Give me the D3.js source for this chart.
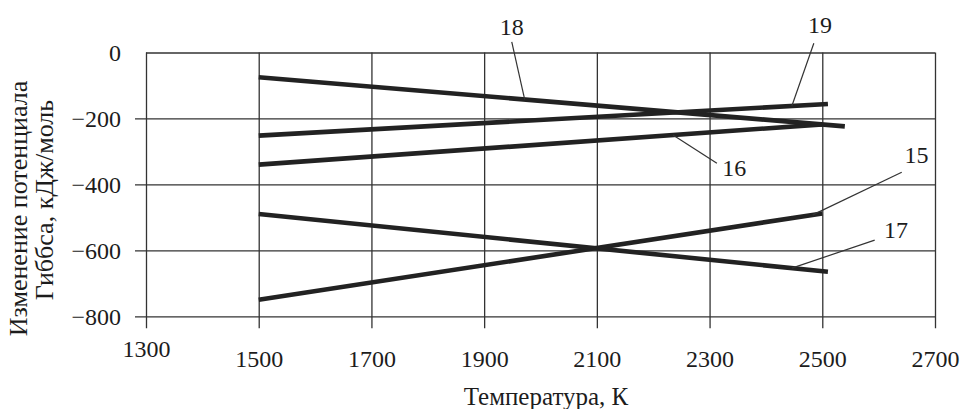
<!DOCTYPE html>
<html>
<head>
<meta charset="utf-8">
<script src="https://cdn.jsdelivr.net/npm/d3@7"></script>
<style>
  body { margin: 0; background: #fff; }
  svg { display: block; font-family: "Liberation Serif", "Times New Roman", serif; }
</style>
</head>
<body>
<div id="chart"></div>
<script>
// axis ticks
var xTicks = [1300, 1500, 1700, 1900, 2100, 2300, 2500, 2700];
var yTicks = [0, -200, -400, -600, -800];

// curves: [temperature K, dG kJ/mol]
var line15 = [[1500, -750], [2500, -488]];
var line16 = [[1500, -340], [2500, -218]];
var line17 = [[1500, -490], [2510, -665]];
var line18 = [[1500, -75], [2540, -224]];
var line19 = [[1500, -252], [2510, -156]];

var curves = [line15, line16, line17, line18, line19];
var curveNames = ["15", "16", "17", "18", "19"];

// callouts: temperature of the point on the curve, outer end of leader, label spot
var leaderAt = [2483, 2235, 2446, 1972, 2446];
var leaderEnd = [[2641, -363], [2313, -336], [2593, -569], [1949, 32], [2485, 28]];
var labelAt = [[2667, -335], [2344, -374], [2631, -563], [1949, 52], [2496, 58]];

var W = 961, H = 409;
var mLeft = 146, mRight = 935, mTop = 52.5, mBottom = 316.3;

var svg = d3.select("#chart").append("svg")
    .attr("width", W)
    .attr("height", H);

var x = d3.scaleLinear().domain([1300, 2700]).range([mLeft, mRight]);
var y = d3.scaleLinear().domain([-800, 0]).range([mBottom, mTop]);

var grid = "#333";
var ink = "#1c1c1c";

// x axis: tick lines run up the whole plot and 12px below it
var xAxis = svg.append("g")
    .attr("transform", "translate(0," + (mBottom + 12) + ")")
    .call(d3.axisBottom(x).tickValues(xTicks).tickSize(-(mBottom + 12 - mTop)).tickFormat(d3.format("d")));
xAxis.select(".domain").remove();
xAxis.selectAll("line").attr("stroke", grid).attr("stroke-width", 1.3);
xAxis.selectAll("text")
    .attr("dy", null)
    .attr("y", function(d) { return d == 1300 ? 29 : 39; })
    .attr("fill", ink)
    .style("font-size", "24px")
    .style("font-family", "Liberation Serif");

// y axis: lines from 11px left of the frame to the right edge
var yAxis = svg.append("g")
    .attr("transform", "translate(" + (mLeft - 11) + ",0)")
    .call(d3.axisLeft(y).tickValues(yTicks).tickSize(-(mRight - mLeft + 11)).tickPadding(14)
      .tickFormat(function(d) { return d < 0 ? "\u2212" + Math.abs(d) : d; }));
yAxis.select(".domain").remove();
yAxis.selectAll("line")
    .attr("stroke", grid).attr("stroke-width", 1.3)
    .attr("x1", function(d) { return d == 0 ? 11 : 0; });
yAxis.selectAll("text")
    .attr("dy", "0.35em")
    .attr("fill", ink)
    .style("font-size", "24px")
    .style("font-family", "Liberation Serif");

// curves
var lineGen = d3.line()
    .x(function(d) { return x(d[0]); })
    .y(function(d) { return y(d[1]); });

svg.append("g").selectAll("path")
    .data(curves)
    .enter().append("path")
    .attr("d", lineGen)
    .attr("fill", "none")
    .attr("stroke", "#222")
    .attr("stroke-width", 4.6);

// value of a curve at temperature t
function valueAt(c, t) {
  var a = c[0], b = c[c.length - 1];
  return a[1] + (b[1] - a[1]) * (t - a[0]) / (b[0] - a[0]);
}

var notes = svg.append("g");
curves.forEach(function(c, i) {
  notes.append("line")
      .attr("x1", x(leaderAt[i]))
      .attr("y1", y(valueAt(c, leaderAt[i])))
      .attr("x2", x(leaderEnd[i][0]))
      .attr("y2", y(leaderEnd[i][1]))
      .attr("stroke", "#333")
      .attr("stroke-width", 1.2);
  notes.append("text")
      .attr("x", x(labelAt[i][0]))
      .attr("y", y(labelAt[i][1]))
      .attr("text-anchor", "middle")
      .attr("fill", ink)
      .style("font-size", "24px")
      .text(curveNames[i]);
});

// axis titles
svg.append("text")
    .attr("x", 546)
    .attr("y", 405)
    .attr("text-anchor", "middle")
    .attr("fill", ink)
    .style("font-size", "25px")
    .text("Температура, К");

svg.append("text")
    .attr("transform", "translate(27,208.5) rotate(-90)")
    .attr("text-anchor", "middle")
    .attr("fill", ink)
    .style("font-size", "26px")
    .text("Изменение потенциала");

svg.append("text")
    .attr("transform", "translate(53,200) rotate(-90)")
    .attr("text-anchor", "middle")
    .attr("fill", ink)
    .style("font-size", "26px")
    .text("Гиббса, кДж/моль");
</script>
</body>
</html>
